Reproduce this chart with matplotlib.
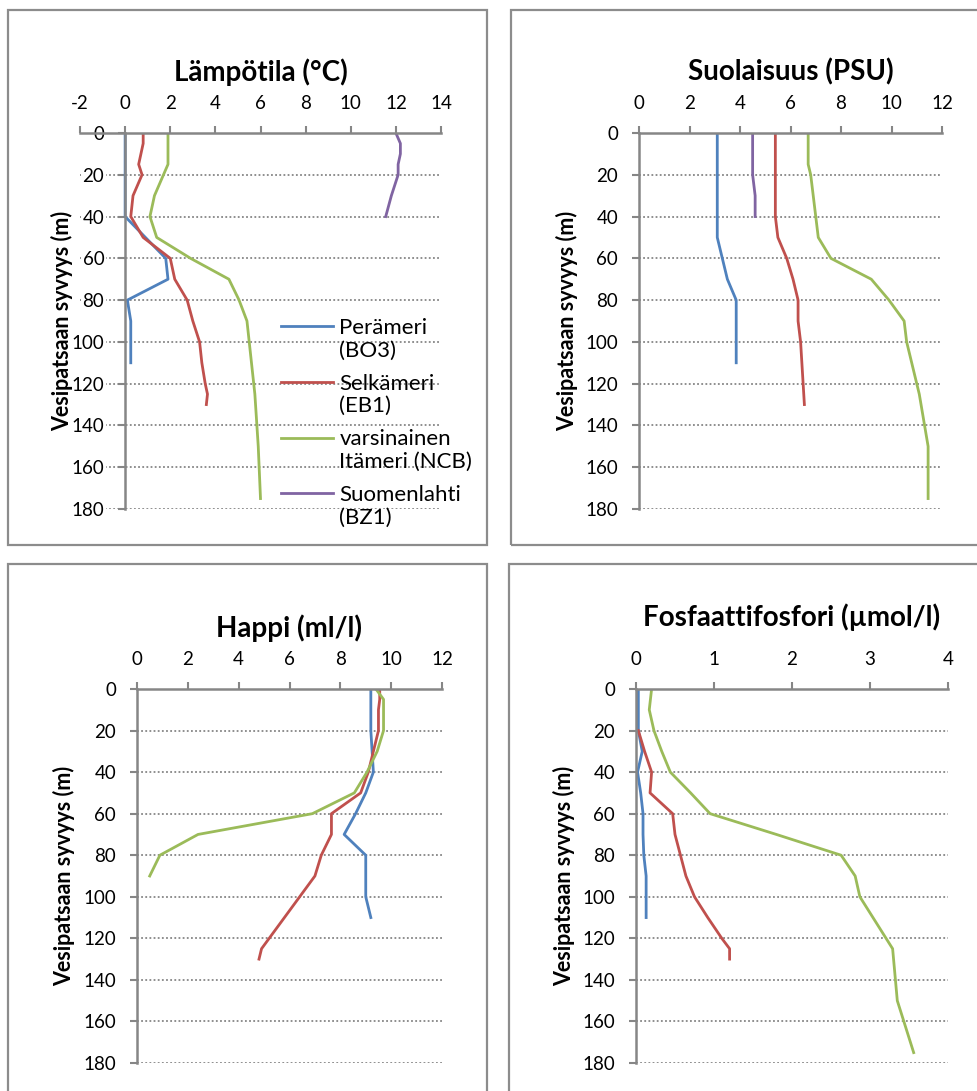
import numpy as np
import matplotlib
matplotlib.use("Agg")
import matplotlib.pyplot as plt
from matplotlib.patches import Rectangle
from matplotlib.legend_handler import HandlerLine2D

plt.rcParams['font.family'] = ['Lato', 'DejaVu Sans']
plt.rcParams['axes.unicode_minus'] = False

# series names
names = ["Perämeri\n(BO3)", "Selkämeri\n(EB1)", "varsinainen\nItämeri (NCB)", "Suomenlahti\n(BZ1)"]
colors = ["#4F81BD", "#C0504D", "#9BBB59", "#8064A2"]

# temperature (°C)
temp_bo3_d = [0, 5, 10, 15, 20, 30, 40, 50, 60, 70, 80, 90, 100, 110]
temp_bo3 = [0, 0, 0, 0, 0, 0, 0, 0.9, 1.8, 1.9, 0.1, 0.25, 0.25, 0.25]
temp_eb1_d = [0, 5, 10, 15, 20, 30, 40, 50, 60, 70, 80, 90, 100, 110, 120, 125, 130]
temp_eb1 = [0.8, 0.8, 0.7, 0.6, 0.75, 0.35, 0.25, 0.8, 2.0, 2.2, 2.75, 3.0, 3.3, 3.4, 3.55, 3.65, 3.6]
temp_ncb_d = [0, 5, 10, 15, 20, 30, 40, 50, 60, 70, 80, 90, 100, 125, 150, 175]
temp_ncb = [1.9, 1.9, 1.9, 1.9, 1.7, 1.3, 1.1, 1.4, 2.9, 4.6, 5.05, 5.4, 5.5, 5.75, 5.9, 6.0]
temp_bz1_d = [0, 5, 10, 15, 20, 30, 40]
temp_bz1 = [12.0, 12.2, 12.2, 12.1, 12.1, 11.8, 11.55]

# salinity (PSU)
sal_bo3_d = [0, 10, 20, 30, 40, 50, 60, 70, 80, 90, 100, 110]
sal_bo3 = [3.1, 3.1, 3.1, 3.1, 3.1, 3.1, 3.3, 3.5, 3.85, 3.85, 3.85, 3.85]
sal_eb1_d = [0, 10, 20, 30, 40, 50, 60, 70, 80, 90, 100, 110, 120, 130]
sal_eb1 = [5.4, 5.4, 5.4, 5.4, 5.4, 5.5, 5.85, 6.1, 6.3, 6.3, 6.4, 6.45, 6.5, 6.55]
sal_ncb_d = [0, 15, 20, 30, 40, 50, 60, 70, 80, 90, 100, 125, 150, 175]
sal_ncb = [6.7, 6.7, 6.8, 6.9, 7.0, 7.1, 7.6, 9.2, 9.9, 10.5, 10.6, 11.1, 11.45, 11.45]
sal_bz1_d = [0, 10, 20, 30, 40]
sal_bz1 = [4.5, 4.5, 4.5, 4.6, 4.6]

# oxygen (ml/l)
oxy_bo3_d = [0, 10, 20, 30, 40, 50, 60, 70, 80, 90, 100, 110]
oxy_bo3 = [9.2, 9.2, 9.2, 9.25, 9.3, 9.0, 8.6, 8.15, 9.0, 9.0, 9.0, 9.2]
oxy_eb1_d = [0, 5, 10, 20, 30, 40, 50, 60, 70, 80, 90, 100, 110, 120, 125, 130]
oxy_eb1 = [9.55, 9.55, 9.5, 9.5, 9.3, 9.1, 8.8, 7.65, 7.65, 7.25, 7.0, 6.4, 5.8, 5.2, 4.9, 4.8]
oxy_ncb_d = [0, 5, 10, 20, 30, 40, 50, 60, 70, 80, 90]
oxy_ncb = [9.4, 9.7, 9.7, 9.7, 9.45, 9.05, 8.55, 6.9, 2.4, 0.9, 0.5]

# phosphate phosphorus (µmol/l)
pho_bo3_d = [0, 10, 20, 30, 40, 50, 60, 70, 80, 90, 100, 110]
pho_bo3 = [0.03, 0.03, 0.03, 0.08, 0.02, 0.06, 0.09, 0.09, 0.1, 0.13, 0.13, 0.13]
pho_eb1_d = [20, 30, 40, 50, 60, 70, 80, 90, 100, 110, 120, 125, 130]
pho_eb1 = [0.03, 0.11, 0.2, 0.18, 0.47, 0.5, 0.57, 0.64, 0.75, 0.92, 1.1, 1.2, 1.2]
pho_ncb_d = [0, 10, 20, 30, 40, 50, 60, 70, 80, 90, 100, 125, 150, 175]
pho_ncb = [0.2, 0.17, 0.23, 0.33, 0.44, 0.7, 0.95, 1.8, 2.63, 2.81, 2.87, 3.29, 3.35, 3.56]

ylabel = "Vesipatsaan syvyys (m)"
grey = "#868686"

W, H = 977, 1091
fig = plt.figure(figsize=(W / 100, H / 100), dpi=100)


def add_ax(l, r, t, b):
    return fig.add_axes([l / W, 1 - b / H, (r - l) / W, (b - t) / H])


def box(l, t, r, b):
    fig.patches.append(Rectangle((l / W, 1 - b / H), (r - l) / W, (b - t) / H,
                                 transform=fig.transFigure, fill=False,
                                 edgecolor="#8c8c8c", linewidth=1.6))


class FirstLineHandler(HandlerLine2D):
    # put the legend line next to the first text line
    def create_artists(self, legend, orig_handle, xdescent, ydescent, width,
                       height, fontsize, trans):
        arts = super().create_artists(legend, orig_handle, xdescent, ydescent,
                                      width, height, fontsize, trans)
        for a in arts:
            a.set_ydata(np.asarray(a.get_ydata()) + fontsize * 0.6)
        return arts


def style(ax, xmin, xmax, xstep, title, title_y, ylab_x, cross_zero=False):
    ax.set_xlim(xmin, xmax)
    ax.set_ylim(180, 0)
    ax.set_xticks(np.arange(xmin, xmax + xstep / 2, xstep))
    ax.set_yticks(np.arange(0, 181, 20))
    ax.xaxis.tick_top()
    ax.spines['bottom'].set_visible(False)
    ax.spines['right'].set_visible(False)
    for s in ['top', 'left']:
        ax.spines[s].set_color(grey)
        ax.spines[s].set_linewidth(1.8)
    if cross_zero:
        ax.spines['left'].set_position(('data', 0))
    ax.tick_params(axis='both', colors=grey, labelcolor='black', labelsize=13.5,
                   length=5, width=1.5, direction='out')
    ax.tick_params(axis='y', pad=10)
    ax.tick_params(axis='x', pad=10)
    ax.yaxis.grid(True, color=grey, linestyle=(0, (1, 1.3)), linewidth=1.3)
    ax.set_axisbelow(True)
    for lab in ax.get_yticklabels():
        lab.set_bbox(dict(facecolor='white', edgecolor='none', pad=1))
    ax.text(0.5, title_y, title, transform=ax.transAxes, ha='center',
            va='center', fontsize=20, fontweight='bold')
    ax.set_ylabel(ylabel, fontsize=15.5, fontweight='bold')
    ax.yaxis.set_label_coords(ylab_x, 0.5)
    ax.yaxis.label.set_va('center')


# panel frames
box(8, 10, 487, 545)
box(511, 10, 985, 545)
box(8, 564, 487, 1100)
box(509, 564, 985, 1100)

# Lämpötila
ax1 = add_ax(80, 441, 133, 509)
ax1.plot(temp_bo3, temp_bo3_d, color=colors[0], lw=2, label=names[0])
ax1.plot(temp_eb1, temp_eb1_d, color=colors[1], lw=2, label=names[1])
ax1.plot(temp_ncb, temp_ncb_d, color=colors[2], lw=2, label=names[2])
ax1.plot(temp_bz1, temp_bz1_d, color=colors[3], lw=2, label=names[3])
style(ax1, -2, 14, 2, "Lämpötila (°C)", 1.162, -0.05, cross_zero=True)
leg = ax1.legend(loc='upper left', bbox_to_anchor=((281 - 80) / 361, 1 - (318 - 133) / 376),
                 frameon=False, fontsize=16, borderpad=0, borderaxespad=0,
                 handlelength=2.35, handletextpad=0.28, labelspacing=0.6,
                 handler_map={plt.Line2D: FirstLineHandler()})
for t in leg.get_texts():
    t.set_linespacing(1.15)

# Suolaisuus
ax2 = add_ax(639, 942, 133, 509)
ax2.plot(sal_bo3, sal_bo3_d, color=colors[0], lw=2)
ax2.plot(sal_eb1, sal_eb1_d, color=colors[1], lw=2)
ax2.plot(sal_ncb, sal_ncb_d, color=colors[2], lw=2)
ax2.plot(sal_bz1, sal_bz1_d, color=colors[3], lw=2)
style(ax2, 0, 12, 2, "Suolaisuus (PSU)", 1.162, -0.238)

# Happi
ax3 = add_ax(137, 442, 689, 1063)
ax3.plot(oxy_bo3, oxy_bo3_d, color=colors[0], lw=2)
ax3.plot(oxy_eb1, oxy_eb1_d, color=colors[1], lw=2)
ax3.plot(oxy_ncb, oxy_ncb_d, color=colors[2], lw=2)
style(ax3, 0, 12, 2, "Happi (ml/l)", 1.163, -0.239)

# Fosfaattifosfori
ax4 = add_ax(636, 948, 689, 1063)
ax4.plot(pho_bo3, pho_bo3_d, color=colors[0], lw=2)
ax4.plot(pho_eb1, pho_eb1_d, color=colors[1], lw=2)
ax4.plot(pho_ncb, pho_ncb_d, color=colors[2], lw=2)
style(ax4, 0, 4, 1, "Fosfaattifosfori (µmol/l)", 1.193, -0.231)

fig.savefig("out.png", dpi=100)
